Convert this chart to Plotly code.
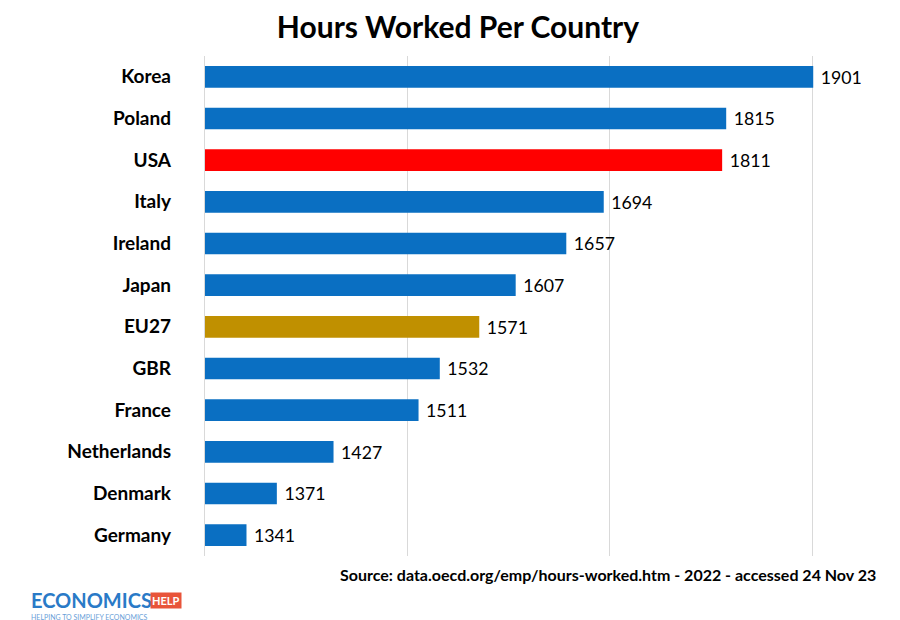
import plotly.graph_objects as go

countries = ["Korea","Poland","USA","Italy","Ireland","Japan","EU27","GBR","France","Netherlands","Denmark","Germany"]
hours = [1901,1815,1811,1694,1657,1607,1571,1532,1511,1427,1371,1341]
colors = ["#0A6FC2" if c not in ("USA","EU27") else ("#FF0000" if c=="USA" else "#C09000") for c in countries]

fig = go.Figure(go.Bar(
    y=countries[::-1], x=hours[::-1], orientation="h", base=0,
    marker=dict(color=colors[::-1], line=dict(width=0)),
    text=[" " + str(h) for h in hours[::-1]], textposition="outside", cliponaxis=False,
    textfont=dict(family="Lato", size=18, color="black"),
))
fig.update_layout(
    width=900, height=620, plot_bgcolor="white", paper_bgcolor="white",
    margin=dict(l=197, r=30, t=48, b=72),
    title=dict(text="<b>Hours Worked Per Country</b>", x=0.5, y=0.985, yanchor="top", xanchor="center",
               font=dict(family="Lato", size=30, color="black")),
    bargap=0.48, showlegend=False,
    xaxis=dict(range=[1300,1965], tick0=1300, dtick=200, showticklabels=False,
               showgrid=True, gridcolor="#D9D9D9", zeroline=False, showline=False),
    yaxis=dict(tickfont=dict(family="Lato", size=19, color="black"), automargin=False,
               showline=True, linecolor="#D9D9D9", ticks="",
               tickprefix="<b>", ticksuffix="</b>      "),
)
fig.add_annotation(text="<b>Source: data.oecd.org/emp/hours-worked.htm - 2022 - accessed 24 Nov 23</b>",
                   xref="paper", yref="paper", x=1.0, y=0, yshift=-7, xanchor="right", yanchor="top",
                   showarrow=False, font=dict(family="Lato", size=16, color="black"))
fig.add_annotation(text="<b>ECONOMICS</b>", xref="paper", yref="paper", x=-0.262, y=0, yshift=-30,
                   xanchor="left", yanchor="top", showarrow=False,
                   font=dict(family="Lato", size=20, color="#2A7AC7"))
fig.add_annotation(text="<b>HELP</b>", xref="paper", yref="paper", x=-0.082, y=0, yshift=-36,
                   xanchor="left", yanchor="top", showarrow=False, bgcolor="#E8543A",
                   font=dict(family="Lato", size=11, color="white"))
fig.add_annotation(text="HELPING TO SIMPLIFY ECONOMICS", xref="paper", yref="paper", x=-0.262, y=0, yshift=-55,
                   xanchor="left", yanchor="top", showarrow=False,
                   font=dict(family="Lato", size=7, color="#6AA0D8"))
fig.write_html("out.html")
